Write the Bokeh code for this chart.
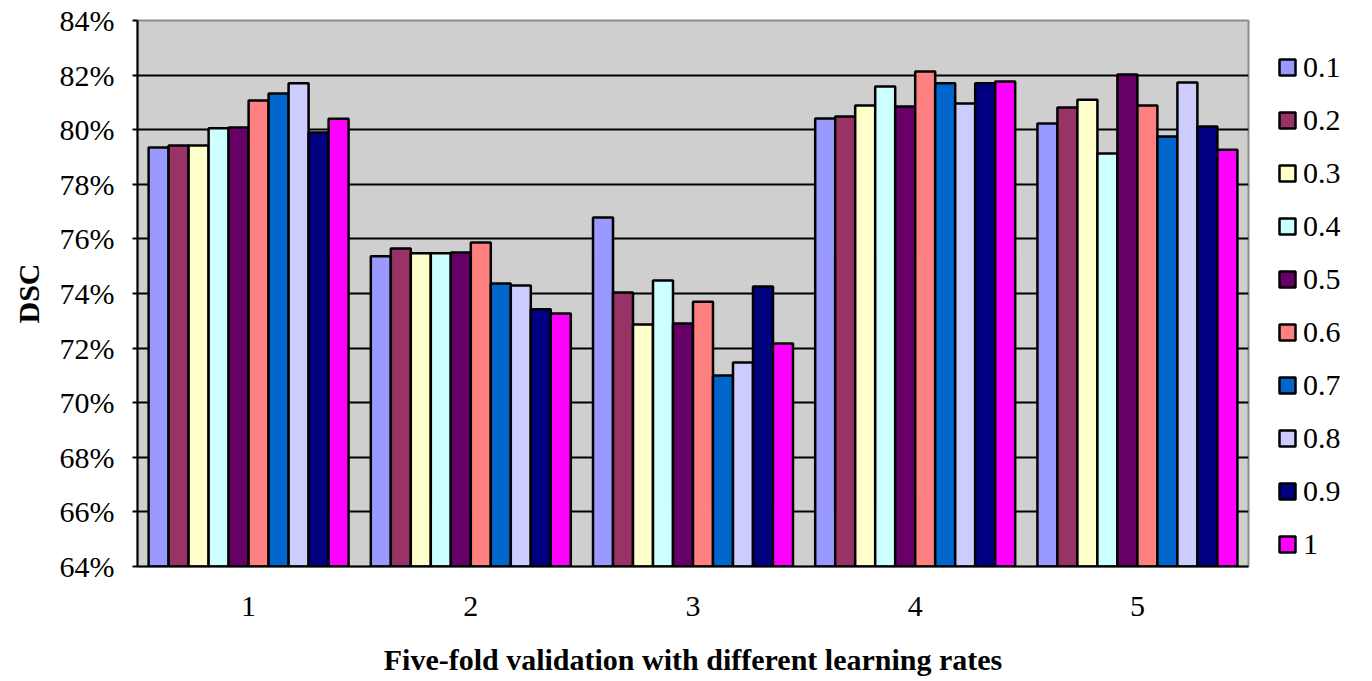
from bokeh.plotting import figure
from bokeh.models import (ColumnDataSource, Range1d, FixedTicker, PrintfTickFormatter,
                          Legend, LegendItem)
from bokeh.transform import dodge
from bokeh.embed import file_html
from bokeh.resources import INLINE

# Five validation folds, DSC (%) for each learning rate
folds = ["1", "2", "3", "4", "5"]
rates = ["0.1", "0.2", "0.3", "0.4", "0.5", "0.6", "0.7", "0.8", "0.9", "1"]

dsc_01 = [79.35, 75.36, 76.78, 80.41, 80.23]
dsc_02 = [79.42, 75.65, 74.04, 80.48, 80.81]
dsc_03 = [79.42, 75.47, 72.86, 80.89, 81.10]
dsc_04 = [80.05, 75.47, 74.48, 81.58, 79.13]
dsc_05 = [80.08, 75.50, 72.90, 80.85, 82.02]
dsc_06 = [81.07, 75.87, 73.70, 82.13, 80.89]
dsc_07 = [81.33, 74.37, 71.00, 81.70, 79.75]
dsc_08 = [81.70, 74.29, 71.47, 80.96, 81.73]
dsc_09 = [79.90, 73.42, 74.26, 81.70, 80.12]
dsc_10 = [80.40, 73.27, 72.17, 81.77, 79.27]

series = [dsc_01, dsc_02, dsc_03, dsc_04, dsc_05,
          dsc_06, dsc_07, dsc_08, dsc_09, dsc_10]

colors = ["#9999FF", "#993366", "#FFFFCC", "#CCFFFF", "#660066",
          "#FF8080", "#0066CC", "#CCCCFF", "#000080", "#FF00FF"]

y_ticks = [64, 66, 68, 70, 72, 74, 76, 78, 80, 82, 84]

FONT = "Liberation Serif"

source = ColumnDataSource(dict(fold=folds, **{f"s{i}": s for i, s in enumerate(series)}))

p = figure(x_range=folds, y_range=Range1d(64, 84),
           frame_width=1111, frame_height=546,
           output_backend="svg", toolbar_location=None,
           min_border_left=137, min_border_right=124,
           min_border_top=20, min_border_bottom=115)

p.background_fill_color = "#cfcfcf"
p.border_fill_color = "white"
p.outline_line_color = "#8c8c8c"
p.outline_line_width = 2

slot = 0.09
renderers = []
for i, (rate, col) in enumerate(zip(rates, colors)):
    r = p.vbar(x=dodge("fold", (i - 4.5) * slot, range=p.x_range),
               top=f"s{i}", bottom=64, width=slot, source=source,
               fill_color=col, line_color="black", line_width=2.5)
    renderers.append(r)

# grid
p.xgrid.visible = False
p.ygrid.grid_line_color = "black"
p.ygrid.grid_line_width = 2
p.ygrid.level = "underlay"

# y axis
p.yaxis.ticker = FixedTicker(ticks=y_ticks)
p.yaxis.formatter = PrintfTickFormatter(format="%d%%")
p.yaxis.axis_label = "DSC"
p.yaxis.axis_line_color = "black"
p.yaxis.axis_line_width = 2
p.yaxis.major_tick_line_width = 2
p.yaxis.major_tick_out = 5
p.yaxis.major_tick_in = 0
p.yaxis.minor_tick_line_color = None
p.yaxis.major_label_standoff = 18
p.yaxis.axis_label_standoff = 12

# x axis
p.xaxis.axis_label = "Five-fold validation with different learning rates"
p.xaxis.axis_line_color = "black"
p.xaxis.axis_line_width = 2
p.xaxis.major_tick_line_color = None
p.xaxis.major_label_standoff = 24
p.xaxis.axis_label_standoff = 24

for ax in (p.xaxis[0], p.yaxis[0]):
    ax.major_label_text_font = FONT
    ax.major_label_text_font_size = "30px"
    ax.major_label_text_color = "black"
    ax.axis_label_text_font = FONT
    ax.axis_label_text_font_size = "30px"
    ax.axis_label_text_font_style = "bold"
    ax.axis_label_text_color = "black"

legend = Legend(items=[LegendItem(label=rate, renderers=[r]) for rate, r in zip(rates, renderers)],
                location="top_left")
legend.label_text_font = FONT
legend.label_text_font_size = "30px"
legend.label_text_color = "black"
legend.label_height = 36
legend.glyph_width = 20
legend.glyph_height = 20
legend.label_standoff = 6
legend.spacing = 17
legend.padding = 5
legend.margin = 24
legend.background_fill_alpha = 0
legend.border_line_alpha = 0
p.add_layout(legend, "right")

open("out.html", "w").write(file_html(p, INLINE))
